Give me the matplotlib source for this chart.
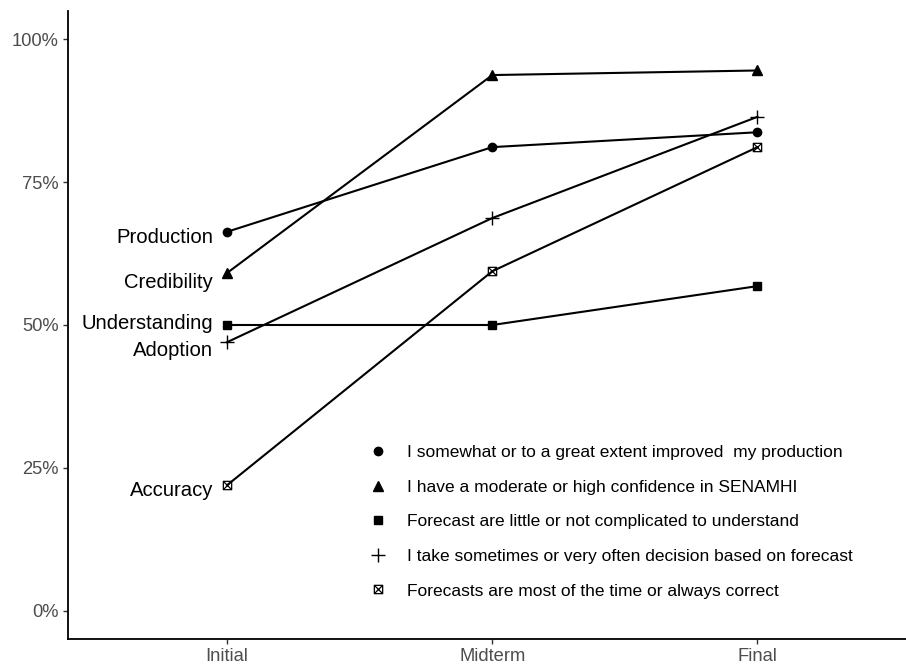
import matplotlib
matplotlib.use("Agg")
import matplotlib.pyplot as plt
from matplotlib.path import Path
from matplotlib.lines import Line2D
import numpy as np

plt.rcParams['font.family'] = ['Liberation Sans', 'DejaVu Sans']

phases = ["Initial", "Midterm", "Final"]
short_names = ["Production", "Credibility", "Understanding", "Adoption", "Accuracy"]
legend_labels = [
    "I somewhat or to a great extent improved  my production",
    "I have a moderate or high confidence in SENAMHI",
    "Forecast are little or not complicated to understand",
    "I take sometimes or very often decision based on forecast",
    "Forecasts are most of the time or always correct",
]
production = [0.663, 0.811, 0.837]
credibility = [0.591, 0.937, 0.945]
understanding = [0.500, 0.500, 0.568]
adoption = [0.470, 0.687, 0.864]
accuracy = [0.220, 0.594, 0.811]
series = [production, credibility, understanding, adoption, accuracy]
yticks = [0, 0.25, 0.5, 0.75, 1.0]
ytick_labels = ["0%", "25%", "50%", "75%", "100%"]

# square with X marker
sqx = Path([(-1, -1), (1, -1), (1, 1), (-1, 1), (-1, -1),
            (-1, -1), (1, 1), (-1, 1), (1, -1)],
           [Path.MOVETO, Path.LINETO, Path.LINETO, Path.LINETO, Path.CLOSEPOLY,
            Path.MOVETO, Path.LINETO, Path.MOVETO, Path.LINETO])

styles = [
    dict(marker='o', ms=6.0, mfc='black', mec='black'),
    dict(marker='^', ms=7.0, mfc='black', mec='black'),
    dict(marker='s', ms=6.0, mfc='black', mec='black'),
    dict(marker='+', ms=10, mew=1.0, mfc='black', mec='black'),
    dict(marker=sqx, ms=6.0, mew=0.9, mfc='none', mec='black'),
]
label_offsets = [(0, -4), (0, -7), (0, 1), (0, -6), (0, -3.5)]

W, H = 906, 667
fig = plt.figure(figsize=(W / 100, H / 100), dpi=100)
ax = fig.add_axes([68 / W, 28 / H, (W - 68) / W, (667 - 28 - 11) / H])

x = np.arange(1, len(phases) + 1)
for vals, st in zip(series, styles):
    ax.plot(x, vals, color='black', lw=1.5, zorder=2)
    ax.plot(x, vals, ls='none', zorder=3, **st)

for name, vals, off in zip(short_names, series, label_offsets):
    ax.annotate(name, (x[0], vals[0]), xytext=(-10 + off[0], off[1]),
                textcoords='offset points', ha='right', va='center',
                fontsize=14.6, color='black')

ax.set_xlim(0.4, 3.56)
ax.set_ylim(-0.049, 1.049)
ax.set_xticks(x)
ax.set_xticklabels(phases)
ax.set_yticks(yticks)
ax.set_yticklabels(ytick_labels)
for s in ['top', 'right']:
    ax.spines[s].set_visible(False)
for s in ['left', 'bottom']:
    ax.spines[s].set_linewidth(1.3)
    ax.spines[s].set_color('black')
ax.tick_params(axis='both', length=3.5, width=1.0, color='#333333',
               labelcolor='#4D4D4D', labelsize=13.2, pad=3)

handles = [Line2D([], [], ls='none', color='black', **st) for st in styles]
leg = ax.legend(handles, legend_labels, loc='upper left',
                bbox_to_anchor=(369 / W, 1 - 445 / H), bbox_transform=fig.transFigure,
                frameon=False, fontsize=12.5, handlelength=1.0, handletextpad=1.2,
                labelspacing=1.12, borderpad=0, borderaxespad=0)

fig.savefig("out.png", dpi=100)
